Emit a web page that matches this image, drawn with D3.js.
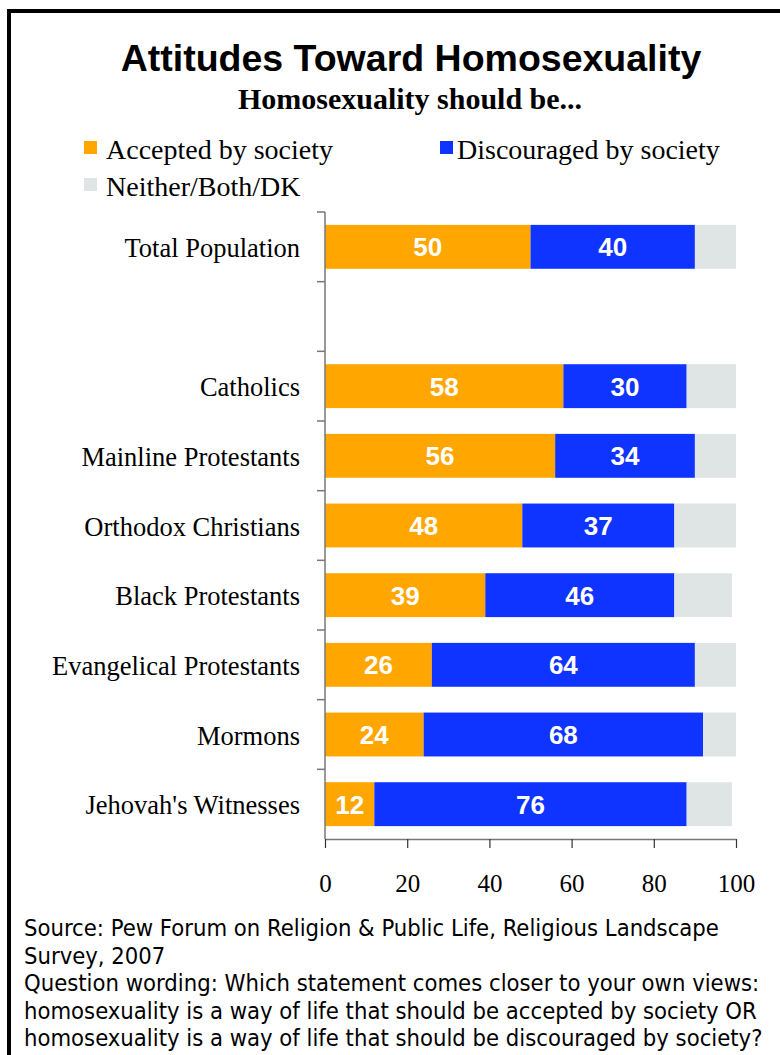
<!DOCTYPE html>
<html lang="en">
<head>
<meta charset="UTF-8">
<title>Attitudes Toward Homosexuality</title>
<script src="https://d3js.org/d3.v7.min.js"></script>
<style>
    body { margin: 0; background: #fff; }
    svg text { fill: #000; }
    .cat { font-family: "Liberation Serif", "Times New Roman", serif; font-size: 26.5px; }
    .barlab { font-family: "Liberation Sans", Arial, sans-serif; font-weight: bold; font-size: 26px; fill: #fff !important; }
    .foot { font-family: "DejaVu Sans Condensed", "DejaVu Sans", sans-serif; font-size: 23.6px; }
</style>
</head>
<body>
<svg id="chart" width="780" height="1055"></svg>
<script>
    // data
    let categories = ["Total Population", "", "Catholics", "Mainline Protestants", "Orthodox Christians",
        "Black Protestants", "Evangelical Protestants", "Mormons", "Jehovah's Witnesses"];
    let accepted    = [50, null, 58, 56, 48, 39, 26, 24, 12];
    let discouraged = [40, null, 30, 34, 37, 46, 64, 68, 76];
    let neither     = [10, null, 12, 10, 15, 14, 10,  8, 11];
    let seriesNames = ["Accepted by society", "Discouraged by society", "Neither/Both/DK"];
    let seriesColors = ["#ffa600", "#1034ff", "#dfe4e4"];
    let xTicks = [0, 20, 40, 60, 80, 100];
    let footLines = [
        "Source: Pew Forum on Religion & Public Life, Religious Landscape",
        "Survey, 2007",
        "Question wording: Which statement comes closer to your own views:",
        "homosexuality is a way of life that should be accepted by society OR",
        "homosexuality is a way of life that should be discouraged by society?"
    ];

    let svg = d3.select("#chart");

    // frame (runs off the right/bottom edge)
    svg.append("rect").attr("x", 9).attr("y", 11).attr("width", 800).attr("height", 1100)
        .attr("fill", "none").attr("stroke", "#000").attr("stroke-width", 4);

    svg.append("text").attr("x", 411).attr("y", 71).attr("text-anchor", "middle")
        .style("font-family", "'Liberation Sans', Arial, sans-serif").style("font-weight", "bold")
        .style("font-size", "37.5px").text("Attitudes Toward Homosexuality");
    svg.append("text").attr("x", 410).attr("y", 109).attr("text-anchor", "middle")
        .style("font-family", "'Liberation Serif', 'Times New Roman', serif").style("font-weight", "bold")
        .style("font-size", "30px").text("Homosexuality should be...");

    // legend: [square x, text x, baseline]
    let legendPos = [[84, 106, 159], [440, 457, 159], [84, 106, 196]];
    let legend = svg.append("g");
    legendPos.forEach(function (p, i) {
        legend.append("rect").attr("x", p[0]).attr("y", p[2] - 18).attr("width", 13).attr("height", 13)
            .attr("fill", seriesColors[i]);
        legend.append("text").attr("x", p[1]).attr("y", p[2])
            .style("font-family", "'Liberation Serif', 'Times New Roman', serif").style("font-size", "28px")
            .text(seriesNames[i]);
    });

    let x = d3.scaleLinear().domain([0, 100]).range([325, 736]);
    let y = d3.scaleBand().domain(d3.range(categories.length)).range([212, 839]).paddingInner(0.37).paddingOuter(0.185);

    let rows = categories.map(function (c, i) {
        return {i: i, name: c, vals: [accepted[i], discouraged[i], neither[i]]};
    }).filter(function (d) { return d.vals[0] != null; });

    let bars = svg.append("g");
    rows.forEach(function (r) {
        let start = 0;
        r.vals.forEach(function (v, k) {
            bars.append("rect")
                .attr("x", x(start)).attr("y", y(r.i))
                .attr("width", x(start + v) - x(start)).attr("height", y.bandwidth())
                .attr("fill", seriesColors[k]);
            if (k < 2) {
                bars.append("text").attr("class", "barlab")
                    .attr("x", x(start + v / 2)).attr("y", y(r.i) + y.bandwidth() / 2 + 9.5)
                    .attr("text-anchor", "middle").text(v);
            }
            start += v;
        });
    });

    // category axis with tick marks between bands
    let axisG = svg.append("g").attr("stroke", "#777").attr("stroke-width", 1.5);
    axisG.append("line").attr("x1", 325).attr("x2", 325).attr("y1", 212).attr("y2", 839);
    d3.range(categories.length).forEach(function (i) {
        let yy = 212 + i * (839 - 212) / categories.length;
        axisG.append("line").attr("x1", 317).attr("x2", 325).attr("y1", yy).attr("y2", yy);
    });
    categories.forEach(function (c, i) {
        svg.append("text").attr("class", "cat").attr("x", 300)
            .attr("y", y(i) + y.bandwidth() / 2 + 10).attr("text-anchor", "end").text(c);
    });

    // value axis
    let xAxis = svg.append("g").attr("transform", "translate(0,839)")
        .call(d3.axisBottom(x).tickValues(xTicks).tickSize(9).tickSizeOuter(0).tickPadding(26));
    xAxis.select(".domain").attr("stroke", "#777").attr("stroke-width", 1.5);
    xAxis.selectAll(".tick line").attr("stroke", "#333").attr("stroke-width", 1.2);
    xAxis.selectAll(".tick text").attr("fill", "#000")
        .style("font-family", "'Liberation Serif', 'Times New Roman', serif").style("font-size", "25px");

    let foot = svg.append("g");
    footLines.forEach(function (t, i) {
        foot.append("text").attr("class", "foot").attr("x", 24).attr("y", 936 + i * 27.5).text(t);
    });
</script>
</body>
</html>
